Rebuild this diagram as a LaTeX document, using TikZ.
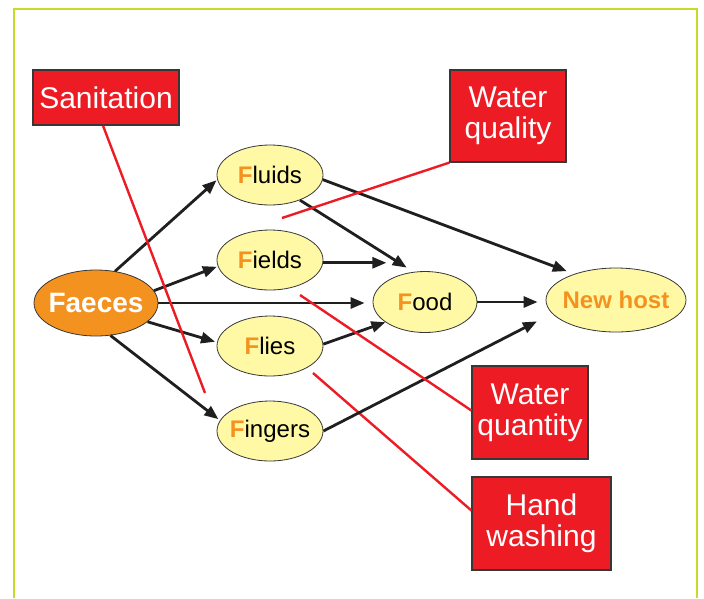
\documentclass[tikz,border=0pt]{standalone}
\usepackage{fontspec}
\setmainfont{Liberation Sans}
\usetikzlibrary{shapes.geometric,arrows.meta,calc}
\definecolor{forange}{RGB}{244,146,32}
\definecolor{fyellow}{RGB}{255,248,164}
\definecolor{fred}{RGB}{237,28,36}
\definecolor{fgreen}{RGB}{200,218,40}
\definecolor{fgray}{RGB}{55,55,55}
\newcommand{\Fo}{{\color{forange}\bfseries F}}
\newcommand{\zb}[1]{\makebox[0pt]{#1}}
\begin{document}
\begin{tikzpicture}[x=1pt,y=-1pt,
  fnode/.style={ellipse,draw=fgray,line width=0.8pt,fill=fyellow,inner sep=0pt,
    minimum width=106pt,minimum height=60pt,font=\fontsize{24}{26}\selectfont},
  redbox/.style={rectangle,draw=fgray,line width=1.2pt,fill=fred,text=white,
    align=center,inner sep=0pt,font=\fontsize{30}{31}\selectfont},
  arr/.style={line width=2.8pt,draw=black!88,-{Triangle[length=14pt,width=11pt]}},
  barrier/.style={line width=2.4pt,draw=fred}]
\useasboundingbox (0,0) rectangle (704,598);
\draw[fgreen,line width=1.5pt] (14,598) -- (14,9) -- (697,9) -- (697,598);

% nodes
\node[fnode,fill=forange,minimum width=124pt,minimum height=66pt,text=white,
  font=\bfseries\fontsize{28}{30}\selectfont] (faeces) at (96,303) {\zb{Faeces}};
\node[fnode] (fluids) at (270,175) {\zb{\Fo luids}};
\node[fnode] (fields) at (270,260) {\zb{\Fo ields}};
\node[fnode] (flies) at (270,346) {\zb{\Fo lies}};
\node[fnode] (fingers) at (270,431) {\zb{\Fo ingers}};
\node[fnode,minimum width=104pt,minimum height=61pt] (food) at (425,302) {\zb{\Fo ood}};
\node[fnode,minimum width=140pt,minimum height=64pt,text=forange,
  font=\bfseries\fontsize{24}{26}\selectfont] (host) at (616,300) {\zb{New host}};

\node[redbox,minimum width=146pt,minimum height=55pt] (san) at (106,97.5) {Sanitation};
\node[redbox,minimum width=116pt,minimum height=92pt] (wql) at (508,116) {Water\\quality};
\node[redbox,minimum width=116pt,minimum height=93pt] (wqn) at (530,412.5) {Water\\quantity};
\node[redbox,minimum width=139pt,minimum height=93pt] (hw) at (541.5,523.5) {Hand\\washing};

\coordinate (sanEnd) at (205,393);
\coordinate (wqlEnd) at (282,218);
\coordinate (wqnEnd) at (300,295);
\coordinate (hwEnd) at (313,373);

% hand washing barrier (under arrows)
\draw[barrier] ($(hw.west)+(0,-13)$) -- (hwEnd);

% arrows
\draw[arr,shorten >=1pt] (faeces.59) -- (fluids.185);
\draw[arr,shorten >=1pt] (faeces.12) -- (fields.187);
\draw[arr,shorten >=8pt] (faeces.east) -- (faeces.east -| food.west);
\draw[arr,shorten >=2pt] (faeces.-20) -- (flies.176);
\draw[arr,shorten >=2pt] (faeces.-66) -- (fingers.168);

\draw[arr,shorten >=8pt] (fluids.-40) -- (food.111);
\draw[arr,shorten >=12pt] (fields.-3) -- (fields.-3 -| food.135);
\draw[arr] (flies.2) -- (food.207);
\draw[arr,shorten >=8pt] (fluids.-5) -- (host.148);
\draw[arr,shorten >=8pt] (food.east) -- (food.east -| host.west);
\draw[arr,shorten >=17pt] (fingers.east) -- (host.192);

% barriers
\draw[barrier] ($(san.south)+(-3,0)$) -- (sanEnd);
\draw[barrier] (wql.south west) -- (wqlEnd);
\draw[barrier] ($(wqn.west)+(0,-2)$) -- (wqnEnd);
\end{tikzpicture}
\end{document}
